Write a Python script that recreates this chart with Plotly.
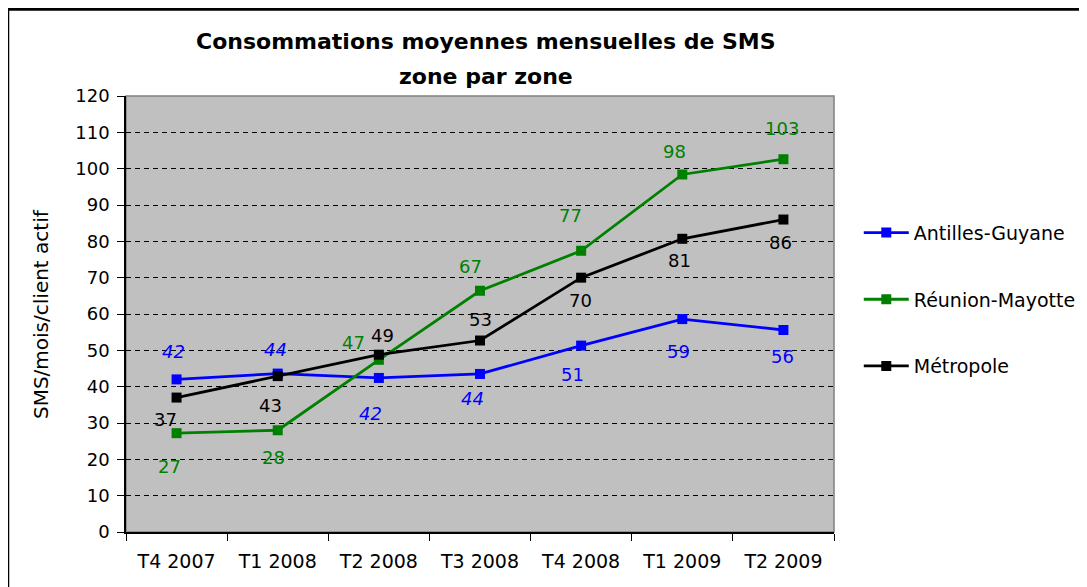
import plotly.graph_objects as go

# Data
quarters = ['T4 2007', 'T1 2008', 'T2 2008', 'T3 2008', 'T4 2008', 'T1 2009', 'T2 2009']
antilles = [42.0, 43.6, 42.4, 43.5, 51.3, 58.6, 55.6]
reunion = [27.2, 28.0, 47.4, 66.4, 77.4, 98.4, 102.6]
metropole = [37.0, 42.9, 48.8, 52.7, 70.0, 80.7, 86.0]
antilles_labels = ['42', '44', '42', '44', '51', '59', '56']
reunion_labels = ['27', '28', '47', '67', '77', '98', '103']
metropole_labels = ['37', '43', '49', '53', '70', '81', '86']

# label offsets in pixels (dx, dy) - mimic the Excel placement
antilles_off = [(-3, 28), (-2, 24), (-8, -36), (-8, -25), (-9, -29), (-4, -32), (-1, -27)]
reunion_off = [(-7, -33), (-4, -27), (-25, 17), (-10, 24), (-11, 35), (-8, 23), (-1, 31)]
metropole_off = [(-11, -22), (-7, -29), (4, 19), (0, 21), (-1, -23), (-3, -22), (-3, -23)]
antilles_italic = [True, True, True, True, False, False, False]

series = [
    ('Antilles-Guyane', antilles, antilles_labels, antilles_off, '#0000FF'),
    ('Réunion-Mayotte', reunion, reunion_labels, reunion_off, '#008000'),
    ('Métropole', metropole, metropole_labels, metropole_off, '#000000'),
]

FONT = 'DejaVu Sans'

fig = go.Figure()
annotations = []

for i, (name, vals, labels, offs, color) in enumerate(series):
    fig.add_trace(go.Scatter(
        x=quarters,
        y=vals,
        mode='lines+markers',
        name=name,
        legendgroup=str(i),
        line=dict(color=color, width=2.8),
        marker=dict(symbol='square', size=10, color=color),
        hoverinfo='skip'
    ))
    for j, (q, v, lab, (dx, dy)) in enumerate(zip(quarters, vals, labels, offs)):
        txt = lab
        if name == 'Antilles-Guyane' and antilles_italic[j]:
            txt = f'<i>{lab}</i>'
        annotations.append(dict(
            x=q, y=v, xref='x', yref='y', text=txt, showarrow=False,
            xshift=dx, yshift=dy,
            font=dict(family=FONT, size=18, color=color)
        ))

# title in two lines
annotations.append(dict(
    x=0.509, y=1.159, xref='paper', yref='paper', showarrow=False,
    text='Consommations moyennes mensuelles de SMS',
    font=dict(family=FONT, size=22, color='black', weight='bold')
))
annotations.append(dict(
    x=0.509, y=1.079, xref='paper', yref='paper', showarrow=False,
    text='zone par zone',
    font=dict(family=FONT, size=22, color='black', weight='bold')
))
# y axis title
annotations.append(dict(
    x=-0.12, y=0.5, xref='paper', yref='paper', showarrow=False,
    xanchor='center', yanchor='middle',
    text='SMS/mois/client actif', textangle=-90,
    font=dict(family=FONT, size=20, color='black')
))

shapes = [
    # plot area border
    dict(type='rect', xref='paper', yref='paper', x0=0, x1=1, y0=0, y1=1,
         line=dict(color='#808080', width=1.5), layer='below'),
    # outer chart border
    dict(type='rect', xref='paper', yref='paper', x0=-0.167, x1=1.6, y0=-0.5, y1=1.199,
         line=dict(color='black', width=3), layer='above'),
]

# the page body adds an 8px margin, so the figure is drawn 8px smaller
fig.update_layout(
    width=1079,
    height=579,
    margin=dict(l=118, r=253, t=88, b=55, autoexpand=False),
    paper_bgcolor='white',
    plot_bgcolor='#C0C0C0',
    font=dict(family=FONT, size=18, color='black'),
    annotations=annotations,
    shapes=shapes,
    showlegend=True,
    legend=dict(
        x=1.035, y=0.73, xanchor='left', yanchor='top',
        font=dict(family=FONT, size=19, color='black'),
        tracegroupgap=39,
        itemwidth=45,
        bgcolor='rgba(0,0,0,0)'
    ),
    xaxis=dict(
        type='category',
        range=[-0.5, 6.5],
        tickson='boundaries',
        ticks='outside',
        ticklen=7,
        tickcolor='black',
        showline=True,
        linecolor='black',
        linewidth=1.5,
        showgrid=False,
        tickfont=dict(family=FONT, size=19),
        ticklabelstandoff=11
    ),
    yaxis=dict(
        range=[0, 120],
        dtick=10,
        ticks='outside',
        ticklen=7,
        tickcolor='black',
        showline=True,
        linecolor='black',
        linewidth=1.5,
        showgrid=True,
        gridcolor='black',
        gridwidth=1,
        griddash='5px,4px',
        zeroline=False,
        tickfont=dict(family=FONT, size=18),
        ticklabelstandoff=4
    )
)

fig.write_html('out.html')
